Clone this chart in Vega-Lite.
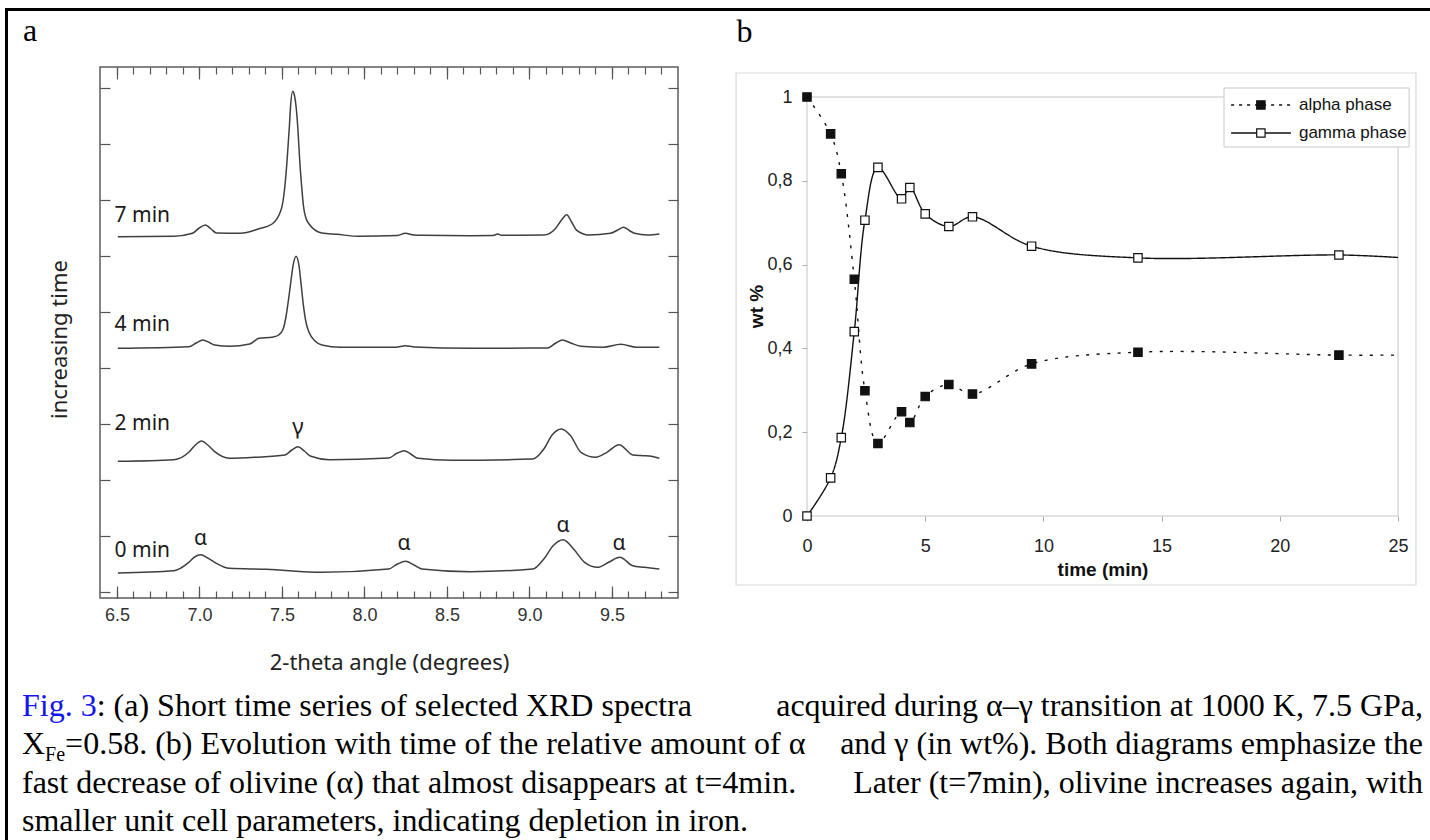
{
  "$schema": "https://vega.github.io/schema/vega-lite/v6.json",
  "padding": {"left": 5, "top": 8, "right": 0, "bottom": 0},
  "background": "white",
  "config": {
    "view": {"stroke": null},
    "axis": {"grid": false, "domain": false, "labelFlush": false, "labelOverlap": false}
  },
  "datasets": {
    "xrd": [
      {"scan": "7 min", "theta": 6.505, "counts": 361.3}, {"scan": "7 min", "theta": 6.845, "counts": 361.7}, {"scan": "7 min", "theta": 6.957, "counts": 364.7}, {"scan": "7 min", "theta": 6.995, "counts": 369.5}, {"scan": "7 min", "theta": 7.036, "counts": 373}, {"scan": "7 min", "theta": 7.07, "counts": 369}, {"scan": "7 min", "theta": 7.103, "counts": 365}, {"scan": "7 min", "theta": 7.249, "counts": 364.7}, {"scan": "7 min", "theta": 7.361, "counts": 369.3}, {"scan": "7 min", "theta": 7.44, "counts": 374}, {"scan": "7 min", "theta": 7.496, "counts": 389}, {"scan": "7 min", "theta": 7.515, "counts": 408}, {"scan": "7 min", "theta": 7.53, "counts": 435.7}, {"scan": "7 min", "theta": 7.545, "counts": 472}, {"scan": "7 min", "theta": 7.552, "counts": 492}, {"scan": "7 min", "theta": 7.565, "counts": 506.7}, {"scan": "7 min", "theta": 7.575, "counts": 503}, {"scan": "7 min", "theta": 7.585, "counts": 492}, {"scan": "7 min", "theta": 7.596, "counts": 470}, {"scan": "7 min", "theta": 7.608, "counts": 435.7}, {"scan": "7 min", "theta": 7.62, "counts": 410}, {"scan": "7 min", "theta": 7.63, "counts": 392}, {"scan": "7 min", "theta": 7.645, "counts": 380}, {"scan": "7 min", "theta": 7.664, "counts": 374}, {"scan": "7 min", "theta": 7.742, "counts": 365}, {"scan": "7 min", "theta": 7.832, "counts": 363.7}, {"scan": "7 min", "theta": 7.967, "counts": 361.7}, {"scan": "7 min", "theta": 8.2, "counts": 362.5}, {"scan": "7 min", "theta": 8.247, "counts": 364.7}, {"scan": "7 min", "theta": 8.3, "counts": 363}, {"scan": "7 min", "theta": 8.348, "counts": 362.7}, {"scan": "7 min", "theta": 8.64, "counts": 362.3}, {"scan": "7 min", "theta": 8.78, "counts": 362.5}, {"scan": "7 min", "theta": 8.807, "counts": 364}, {"scan": "7 min", "theta": 8.83, "counts": 362.7}, {"scan": "7 min", "theta": 9.087, "counts": 363}, {"scan": "7 min", "theta": 9.155, "counts": 369}, {"scan": "7 min", "theta": 9.19, "counts": 377}, {"scan": "7 min", "theta": 9.226, "counts": 383.3}, {"scan": "7 min", "theta": 9.255, "counts": 376}, {"scan": "7 min", "theta": 9.289, "counts": 367.3}, {"scan": "7 min", "theta": 9.357, "counts": 363}, {"scan": "7 min", "theta": 9.491, "counts": 364.7}, {"scan": "7 min", "theta": 9.535, "counts": 368}, {"scan": "7 min", "theta": 9.57, "counts": 370.7}, {"scan": "7 min", "theta": 9.605, "counts": 367.5}, {"scan": "7 min", "theta": 9.637, "counts": 364.7}, {"scan": "7 min", "theta": 9.715, "counts": 363}, {"scan": "7 min", "theta": 9.787, "counts": 364},
      {"scan": "4 min", "theta": 6.505, "counts": 249.7}, {"scan": "4 min", "theta": 6.935, "counts": 251.3}, {"scan": "4 min", "theta": 6.98, "counts": 255}, {"scan": "4 min", "theta": 7.02, "counts": 258}, {"scan": "4 min", "theta": 7.06, "counts": 255.5}, {"scan": "4 min", "theta": 7.092, "counts": 253}, {"scan": "4 min", "theta": 7.182, "counts": 251.7}, {"scan": "4 min", "theta": 7.305, "counts": 254}, {"scan": "4 min", "theta": 7.361, "counts": 259.7}, {"scan": "4 min", "theta": 7.44, "counts": 260.7}, {"scan": "4 min", "theta": 7.48, "counts": 263}, {"scan": "4 min", "theta": 7.507, "counts": 269}, {"scan": "4 min", "theta": 7.525, "counts": 282}, {"scan": "4 min", "theta": 7.54, "counts": 299}, {"scan": "4 min", "theta": 7.555, "counts": 318}, {"scan": "4 min", "theta": 7.567, "counts": 332.3}, {"scan": "4 min", "theta": 7.585, "counts": 341.7}, {"scan": "4 min", "theta": 7.603, "counts": 332.3}, {"scan": "4 min", "theta": 7.615, "counts": 315}, {"scan": "4 min", "theta": 7.63, "counts": 292.3}, {"scan": "4 min", "theta": 7.645, "counts": 276}, {"scan": "4 min", "theta": 7.664, "counts": 265.7}, {"scan": "4 min", "theta": 7.7, "counts": 257}, {"scan": "4 min", "theta": 7.742, "counts": 253}, {"scan": "4 min", "theta": 7.854, "counts": 250.7}, {"scan": "4 min", "theta": 8.19, "counts": 250.7}, {"scan": "4 min", "theta": 8.247, "counts": 252.3}, {"scan": "4 min", "theta": 8.303, "counts": 251}, {"scan": "4 min", "theta": 8.64, "counts": 249.7}, {"scan": "4 min", "theta": 9.11, "counts": 250}, {"scan": "4 min", "theta": 9.16, "counts": 255}, {"scan": "4 min", "theta": 9.2, "counts": 258}, {"scan": "4 min", "theta": 9.25, "counts": 255}, {"scan": "4 min", "theta": 9.312, "counts": 251.7}, {"scan": "4 min", "theta": 9.446, "counts": 250.7}, {"scan": "4 min", "theta": 9.554, "counts": 253.7}, {"scan": "4 min", "theta": 9.648, "counts": 250.7}, {"scan": "4 min", "theta": 9.787, "counts": 250.7},
      {"scan": "2 min", "theta": 6.505, "counts": 136.7}, {"scan": "2 min", "theta": 6.845, "counts": 138.3}, {"scan": "2 min", "theta": 6.935, "counts": 145.7}, {"scan": "2 min", "theta": 6.975, "counts": 153}, {"scan": "2 min", "theta": 7.014, "counts": 157}, {"scan": "2 min", "theta": 7.05, "counts": 153}, {"scan": "2 min", "theta": 7.092, "counts": 146.3}, {"scan": "2 min", "theta": 7.182, "counts": 139.7}, {"scan": "2 min", "theta": 7.339, "counts": 140.7}, {"scan": "2 min", "theta": 7.518, "counts": 143}, {"scan": "2 min", "theta": 7.56, "counts": 148}, {"scan": "2 min", "theta": 7.597, "counts": 151.3}, {"scan": "2 min", "theta": 7.635, "counts": 147}, {"scan": "2 min", "theta": 7.675, "counts": 141.7}, {"scan": "2 min", "theta": 7.787, "counts": 138.3}, {"scan": "2 min", "theta": 8.146, "counts": 140}, {"scan": "2 min", "theta": 8.2, "counts": 145}, {"scan": "2 min", "theta": 8.24, "counts": 147.3}, {"scan": "2 min", "theta": 8.28, "counts": 144}, {"scan": "2 min", "theta": 8.325, "counts": 139.7}, {"scan": "2 min", "theta": 8.527, "counts": 137.7}, {"scan": "2 min", "theta": 9.02, "counts": 139}, {"scan": "2 min", "theta": 9.087, "counts": 149}, {"scan": "2 min", "theta": 9.137, "counts": 163}, {"scan": "2 min", "theta": 9.193, "counts": 169}, {"scan": "2 min", "theta": 9.249, "counts": 162.3}, {"scan": "2 min", "theta": 9.312, "counts": 145.7}, {"scan": "2 min", "theta": 9.401, "counts": 140.7}, {"scan": "2 min", "theta": 9.469, "counts": 145.7}, {"scan": "2 min", "theta": 9.543, "counts": 153.3}, {"scan": "2 min", "theta": 9.626, "counts": 143}, {"scan": "2 min", "theta": 9.693, "counts": 142.3}, {"scan": "2 min", "theta": 9.738, "counts": 141.7}, {"scan": "2 min", "theta": 9.787, "counts": 139.7},
      {"scan": "0 min", "theta": 6.505, "counts": 25}, {"scan": "0 min", "theta": 6.845, "counts": 27.3}, {"scan": "0 min", "theta": 6.935, "counts": 35.7}, {"scan": "0 min", "theta": 6.97, "counts": 41}, {"scan": "0 min", "theta": 7.007, "counts": 43.3}, {"scan": "0 min", "theta": 7.05, "counts": 40}, {"scan": "0 min", "theta": 7.092, "counts": 35.7}, {"scan": "0 min", "theta": 7.182, "counts": 29.7}, {"scan": "0 min", "theta": 7.406, "counts": 28.7}, {"scan": "0 min", "theta": 7.742, "counts": 25.7}, {"scan": "0 min", "theta": 8.146, "counts": 29}, {"scan": "0 min", "theta": 8.2, "counts": 34}, {"scan": "0 min", "theta": 8.249, "counts": 36.7}, {"scan": "0 min", "theta": 8.3, "counts": 33}, {"scan": "0 min", "theta": 8.348, "counts": 29}, {"scan": "0 min", "theta": 8.64, "counts": 26.3}, {"scan": "0 min", "theta": 9.02, "counts": 29}, {"scan": "0 min", "theta": 9.087, "counts": 39}, {"scan": "0 min", "theta": 9.143, "counts": 52.3}, {"scan": "0 min", "theta": 9.204, "counts": 58.3}, {"scan": "0 min", "theta": 9.267, "counts": 49}, {"scan": "0 min", "theta": 9.334, "counts": 35.7}, {"scan": "0 min", "theta": 9.413, "counts": 30.7}, {"scan": "0 min", "theta": 9.48, "counts": 35.7}, {"scan": "0 min", "theta": 9.547, "counts": 40.7}, {"scan": "0 min", "theta": 9.626, "counts": 32.3}, {"scan": "0 min", "theta": 9.693, "counts": 30.7}, {"scan": "0 min", "theta": 9.787, "counts": 29}
    ],
    "scanLabels": [
      {"theta": 6.485, "counts": 382, "label": "7 min"},
      {"theta": 6.485, "counts": 273, "label": "4 min"},
      {"theta": 6.485, "counts": 174, "label": "2 min"},
      {"theta": 6.485, "counts": 47, "label": "0 min"}
    ],
    "peakLabels": [
      {"theta": 7.007, "counts": 59, "label": "α"},
      {"theta": 8.24, "counts": 54, "label": "α"},
      {"theta": 9.204, "counts": 72, "label": "α"},
      {"theta": 9.543, "counts": 54, "label": "α"},
      {"theta": 7.597, "counts": 171, "label": "γ"}
    ],
    "phases": [
      {"phase": "alpha phase", "t": 0, "wt": 1.0}, {"phase": "alpha phase", "t": 1, "wt": 0.912}, {"phase": "alpha phase", "t": 1.45, "wt": 0.817}, {"phase": "alpha phase", "t": 2, "wt": 0.565}, {"phase": "alpha phase", "t": 2.45, "wt": 0.299}, {"phase": "alpha phase", "t": 3, "wt": 0.173}, {"phase": "alpha phase", "t": 4, "wt": 0.249}, {"phase": "alpha phase", "t": 4.35, "wt": 0.223}, {"phase": "alpha phase", "t": 5, "wt": 0.285}, {"phase": "alpha phase", "t": 6, "wt": 0.314}, {"phase": "alpha phase", "t": 7, "wt": 0.291}, {"phase": "alpha phase", "t": 9.5, "wt": 0.363}, {"phase": "alpha phase", "t": 14, "wt": 0.391}, {"phase": "alpha phase", "t": 22.5, "wt": 0.384}, {"phase": "alpha phase", "t": 25, "wt": 0.384},
      {"phase": "gamma phase", "t": 0, "wt": 0.0}, {"phase": "gamma phase", "t": 1, "wt": 0.091}, {"phase": "gamma phase", "t": 1.45, "wt": 0.187}, {"phase": "gamma phase", "t": 2, "wt": 0.44}, {"phase": "gamma phase", "t": 2.45, "wt": 0.706}, {"phase": "gamma phase", "t": 3, "wt": 0.832}, {"phase": "gamma phase", "t": 4, "wt": 0.757}, {"phase": "gamma phase", "t": 4.35, "wt": 0.784}, {"phase": "gamma phase", "t": 5, "wt": 0.721}, {"phase": "gamma phase", "t": 6, "wt": 0.691}, {"phase": "gamma phase", "t": 7, "wt": 0.714}, {"phase": "gamma phase", "t": 9.5, "wt": 0.644}, {"phase": "gamma phase", "t": 14, "wt": 0.616}, {"phase": "gamma phase", "t": 22.5, "wt": 0.623}, {"phase": "gamma phase", "t": 25, "wt": 0.617}
    ],
    "one": [{}],
    "caption": [
      {"line": 1, "seg": "FIG", "text": "Fig. 3"},
      {"line": 1, "seg": "L2", "text": ": (a) Short time series of selected XRD spectra"},
      {"line": 1, "seg": "R", "text": "acquired during α–γ transition at 1000 K, 7.5 GPa,"},
      {"line": 2, "seg": "L", "text": "X"},
      {"line": 2, "seg": "SUB", "text": "Fe"},
      {"line": 2, "seg": "L3", "text": "=0.58. (b) Evolution with time of the relative amount of α"},
      {"line": 2, "seg": "R", "text": "and γ (in wt%). Both diagrams emphasize the"},
      {"line": 3, "seg": "L", "text": "fast decrease of olivine (α) that almost disappears at t=4min."},
      {"line": 3, "seg": "R", "text": "Later (t=7min), olivine increases again, with"},
      {"line": 4, "seg": "L", "text": "smaller unit cell parameters, indicating depletion in iron."}
    ]
  },
  "spacing": 0,
  "hconcat": [
    {"data": {"values": []}, "mark": "rect", "encoding": {}, "width": 3, "height": 832, "view": {"fill": "black", "stroke": null}},
    {
      "spacing": 3,
      "vconcat": [
        {"data": {"values": []}, "mark": "rect", "encoding": {}, "width": 1422, "height": 3, "view": {"fill": "black", "stroke": null}},
        {
          "spacing": 16,
          "vconcat": [
            {
              "spacing": 13,
              "hconcat": [
                {"data": {"values": []}, "mark": "rect", "encoding": {}, "width": 1, "height": 1},
                {
                  "spacing": 55,
                  "hconcat": [
                    {
                      "width": 578,
                      "height": 531,
                      "title": {"text": "a", "anchor": "start", "frame": "bounds", "orient": "top", "font": "Liberation Serif", "fontSize": 32, "fontWeight": "normal", "color": "black", "baseline": "alphabetic", "offset": -7, "dx": -25},
                      "view": {"stroke": "#5c5c5c", "strokeWidth": 1.5},
                      "resolve": {"axis": {"x": "independent", "y": "independent"}},
                      "layer": [
                        {
                          "data": {"name": "xrd"},
                          "mark": {"type": "line", "interpolate": "monotone", "stroke": "#3f3f3f", "strokeWidth": 1.5},
                          "encoding": {
                            "x": {"field": "theta", "type": "quantitative", "scale": {"domain": [6.397, 9.9], "nice": false, "zero": false},
                                  "axis": {"orient": "bottom", "values": [6.5, 7, 7.5, 8, 8.5, 9, 9.5], "format": ".1f", "tickSize": -12, "tickColor": "#555", "tickWidth": 1.2, "labelPadding": 20, "labelFont": "Liberation Sans", "labelFontSize": 18, "labelColor": "#333", "title": "2-theta angle (degrees)", "titleFont": "Noto Sans", "titleFontSize": 22, "titleFontWeight": "normal", "titleColor": "#222", "titlePadding": 28}},
                            "y": {"field": "counts", "type": "quantitative", "scale": {"domain": [0, 531], "nice": false, "zero": false},
                                  "axis": {"orient": "left", "values": [6, 62, 118, 174, 230, 286, 342, 398, 454, 510], "labels": false, "tickSize": -10, "tickColor": "#555", "tickWidth": 1.2, "title": "increasing time", "titleFont": "Noto Sans", "titleFontSize": 22, "titleFontWeight": "normal", "titleColor": "#222", "titlePadding": 29, "minExtent": 0, "maxExtent": 0, "titleY": 272}},
                            "detail": {"field": "scan", "type": "nominal"}
                          }
                        },
                        {
                          "data": {"name": "scanLabels"},
                          "mark": {"type": "text", "align": "left", "baseline": "middle", "font": "Noto Sans", "fontSize": 21, "color": "#1a1a1a"},
                          "encoding": {
                            "x": {"field": "theta", "type": "quantitative", "scale": {"domain": [6.397, 9.9], "nice": false, "zero": false},
                                  "axis": {"orient": "bottom", "values": [6.5, 6.6, 6.7, 6.8, 6.9, 7.0, 7.1, 7.2, 7.3, 7.4, 7.5, 7.6, 7.7, 7.8, 7.9, 8.0, 8.1, 8.2, 8.3, 8.4, 8.5, 8.6, 8.7, 8.8, 8.9, 9.0, 9.1, 9.2, 9.3, 9.4, 9.5, 9.6, 9.7, 9.8], "labels": false, "tickSize": -7, "tickColor": "#555", "tickWidth": 1.2, "title": null}},
                            "y": {"field": "counts", "type": "quantitative", "scale": {"domain": [0, 531], "nice": false, "zero": false},
                                  "axis": {"orient": "right", "values": [6, 62, 118, 174, 230, 286, 342, 398, 454, 510], "labels": false, "tickSize": -10, "tickColor": "#555", "tickWidth": 1.2, "title": null, "minExtent": 0, "maxExtent": 0}},
                            "text": {"field": "label", "type": "nominal"}
                          }
                        },
                        {
                          "data": {"name": "peakLabels"},
                          "transform": [{"filter": "datum.label === 'α'"}],
                          "mark": {"type": "text", "align": "center", "baseline": "middle", "font": "Noto Sans", "fontSize": 21, "color": "#1a1a1a"},
                          "encoding": {
                            "x": {"field": "theta", "type": "quantitative", "scale": {"domain": [6.397, 9.9], "nice": false, "zero": false},
                                  "axis": {"orient": "top", "values": [6.5, 7, 7.5, 8, 8.5, 9, 9.5], "labels": false, "tickSize": -12, "tickColor": "#555", "tickWidth": 1.2, "title": null, "minExtent": 0, "maxExtent": 0}},
                            "y": {"field": "counts", "type": "quantitative", "scale": {"domain": [0, 531], "nice": false, "zero": false}, "axis": null},
                            "text": {"field": "label", "type": "nominal"}
                          }
                        },
                        {
                          "data": {"name": "peakLabels"},
                          "transform": [{"filter": "datum.label === 'γ'"}],
                          "mark": {"type": "text", "align": "center", "baseline": "middle", "font": "Noto Sans", "fontSize": 22, "color": "#1a1a1a"},
                          "encoding": {
                            "x": {"field": "theta", "type": "quantitative", "scale": {"domain": [6.397, 9.9], "nice": false, "zero": false},
                                  "axis": {"orient": "top", "values": [6.5, 6.6, 6.7, 6.8, 6.9, 7.0, 7.1, 7.2, 7.3, 7.4, 7.5, 7.6, 7.7, 7.8, 7.9, 8.0, 8.1, 8.2, 8.3, 8.4, 8.5, 8.6, 8.7, 8.8, 8.9, 9.0, 9.1, 9.2, 9.3, 9.4, 9.5, 9.6, 9.7, 9.8], "labels": false, "tickSize": -7, "tickColor": "#555", "tickWidth": 1.2, "title": null, "minExtent": 0, "maxExtent": 0}},
                            "y": {"field": "counts", "type": "quantitative", "scale": {"domain": [0, 531], "nice": false, "zero": false}, "axis": null},
                            "text": {"field": "label", "type": "nominal"}
                          }
                        }
                      ]
                    },
                    {
                      "width": 591,
                      "height": 449,
                      "title": {"text": "b", "anchor": "start", "frame": "bounds", "orient": "top", "font": "Liberation Serif", "fontSize": 32, "fontWeight": "normal", "color": "black", "baseline": "alphabetic", "offset": -7, "dx": 1},
                      "data": {"name": "phases"},
                      "layer": [
                        {
                          "data": {"name": "one"},
                          "mark": {"type": "rect", "fill": null, "stroke": "#dadada", "strokeWidth": 1.2},
                          "encoding": {"x": {"datum": -3.0, "type": "quantitative"}, "x2": {"datum": 25.76}, "y": {"datum": 1.0573, "type": "quantitative"}, "y2": {"datum": -0.1647}}
                        },
                        {
                          "data": {"name": "one"},
                          "mark": {"type": "rule", "color": "#c4c4c4", "strokeWidth": 1},
                          "encoding": {"y": {"datum": 1, "type": "quantitative"}}
                        },
                        {
                          "data": {"name": "one"},
                          "mark": {"type": "rule", "color": "#c4c4c4", "strokeWidth": 1},
                          "encoding": {"y": {"datum": 0, "type": "quantitative"}}
                        },
                        {
                          "data": {"name": "one"},
                          "mark": {"type": "rule", "color": "#c4c4c4", "strokeWidth": 1},
                          "encoding": {"x": {"datum": 0, "type": "quantitative"}, "y": {"datum": 0, "type": "quantitative"}, "y2": {"datum": 1}}
                        },
                        {
                          "data": {"name": "one"},
                          "mark": {"type": "rule", "color": "#c4c4c4", "strokeWidth": 1},
                          "encoding": {"x": {"datum": 25, "type": "quantitative"}, "y": {"datum": 0, "type": "quantitative"}, "y2": {"datum": 1}}
                        },
                        {
                          "mark": {"type": "line", "interpolate": "catmull-rom", "stroke": "#111", "strokeWidth": 1.4},
                          "encoding": {
                            "x": {"field": "t", "type": "quantitative", "scale": {"domain": [0, 25], "nice": false},
                                  "axis": {"values": [0, 5, 10, 15, 20, 25], "tickSize": 5, "tickColor": "#aaa", "labelPadding": 16, "labelFont": "Liberation Sans", "labelFontSize": 18, "labelColor": "#222", "title": "time (min)", "titleFont": "Liberation Sans", "titleFontSize": 19, "titleFontWeight": "bold", "titleColor": "#111", "titlePadding": 5}},
                            "y": {"field": "wt", "type": "quantitative", "scale": {"domain": [0, 1.0716], "nice": false},
                                  "axis": {"values": [0, 0.2, 0.4, 0.6, 0.8, 1], "labelExpr": "replace(format(datum.value, '~g'), '.', ',')", "tickSize": 5, "tickColor": "#aaa", "labelPadding": 10, "labelFont": "Liberation Sans", "labelFontSize": 18, "labelColor": "#222", "title": "wt %", "titleFont": "Liberation Sans", "titleFontSize": 19, "titleFontWeight": "bold", "titleColor": "#111", "titlePadding": 0, "minExtent": 0, "titleY": 239}},
                            "strokeDash": {"field": "phase", "type": "nominal", "scale": {"domain": ["alpha phase", "gamma phase"], "range": [[3, 7.5], [1, 0]]}, "legend": null}
                          }
                        },
                        {
                          "transform": [{"filter": "datum.t < 24"}],
                          "mark": {"type": "point", "shape": "square", "size": 70, "filled": true, "stroke": "#111", "strokeWidth": 1.2, "opacity": 1},
                          "encoding": {
                            "x": {"field": "t", "type": "quantitative"},
                            "y": {"field": "wt", "type": "quantitative"},
                            "fill": {"field": "phase", "type": "nominal", "scale": {"domain": ["alpha phase", "gamma phase"], "range": ["#111", "white"]}, "legend": null}
                          }
                        },
                        {
                          "data": {"name": "one"},
                          "mark": {"type": "rect", "fill": "white", "stroke": "#c8c8c8", "strokeWidth": 1},
                          "encoding": {"x": {"datum": 17.64, "type": "quantitative"}, "x2": {"datum": 25.47}, "y": {"datum": 1.0215, "type": "quantitative"}, "y2": {"datum": 0.8807}}
                        },
                        {
                          "data": {"name": "one"},
                          "mark": {"type": "rule", "color": "#111", "strokeWidth": 1.4, "strokeDash": [3, 5]},
                          "encoding": {"x": {"datum": 17.94, "type": "quantitative"}, "x2": {"datum": 20.47}, "y": {"datum": 0.981, "type": "quantitative"}}
                        },
                        {
                          "data": {"name": "one"},
                          "mark": {"type": "rule", "color": "#111", "strokeWidth": 1.4},
                          "encoding": {"x": {"datum": 17.94, "type": "quantitative"}, "x2": {"datum": 20.47}, "y": {"datum": 0.914, "type": "quantitative"}}
                        },
                        {
                          "data": {"name": "one"},
                          "mark": {"type": "point", "shape": "square", "size": 70, "filled": true, "fill": "#111", "stroke": "#111", "strokeWidth": 1.2, "opacity": 1},
                          "encoding": {"x": {"datum": 19.2, "type": "quantitative"}, "y": {"datum": 0.981, "type": "quantitative"}}
                        },
                        {
                          "data": {"name": "one"},
                          "mark": {"type": "point", "shape": "square", "size": 70, "filled": true, "fill": "white", "stroke": "#111", "strokeWidth": 1.2, "opacity": 1},
                          "encoding": {"x": {"datum": 19.2, "type": "quantitative"}, "y": {"datum": 0.914, "type": "quantitative"}}
                        },
                        {
                          "data": {"name": "one"},
                          "mark": {"type": "text", "align": "left", "baseline": "middle", "font": "Liberation Sans", "fontSize": 17, "color": "#111"},
                          "encoding": {"x": {"datum": 20.81, "type": "quantitative"}, "y": {"datum": 0.981, "type": "quantitative"}, "text": {"value": "alpha phase"}}
                        },
                        {
                          "data": {"name": "one"},
                          "mark": {"type": "text", "align": "left", "baseline": "middle", "font": "Liberation Sans", "fontSize": 17, "color": "#111"},
                          "encoding": {"x": {"datum": 20.81, "type": "quantitative"}, "y": {"datum": 0.914, "type": "quantitative"}, "text": {"value": "gamma phase"}}
                        }
                      ]
                    }
                  ]
                }
              ]
            },
            {
              "width": 1415,
              "height": 115,
              "data": {"name": "caption"},
              "encoding": {
                "y": {"field": "line", "type": "ordinal", "scale": {"type": "point", "padding": 0}, "axis": null},
                "text": {"field": "text", "type": "nominal"}
              },
              "layer": [
                {"transform": [{"filter": "datum.seg === 'L'"}], "mark": {"type": "text", "align": "left", "baseline": "alphabetic", "font": "Liberation Serif", "fontSize": 32, "color": "black", "dx": 14},
                 "encoding": {"x": {"datum": 0, "type": "quantitative", "scale": {"domain": [0, 1]}, "axis": null}}},
                {"transform": [{"filter": "datum.seg === 'R'"}], "mark": {"type": "text", "align": "right", "baseline": "alphabetic", "font": "Liberation Serif", "fontSize": 32, "color": "black"},
                 "encoding": {"x": {"datum": 1, "type": "quantitative", "scale": {"domain": [0, 1]}, "axis": null}}},
                {"transform": [{"filter": "datum.seg === 'FIG'"}], "mark": {"type": "text", "align": "left", "baseline": "alphabetic", "font": "Liberation Serif", "fontSize": 32, "color": "#1414f0", "dx": 14},
                 "encoding": {"x": {"datum": 0, "type": "quantitative", "scale": {"domain": [0, 1]}, "axis": null}}},
                {"transform": [{"filter": "datum.seg === 'L2'"}], "mark": {"type": "text", "align": "left", "baseline": "alphabetic", "font": "Liberation Serif", "fontSize": 32, "color": "black", "dx": 88.7},
                 "encoding": {"x": {"datum": 0, "type": "quantitative", "scale": {"domain": [0, 1]}, "axis": null}}},
                {"transform": [{"filter": "datum.seg === 'SUB'"}], "mark": {"type": "text", "align": "left", "baseline": "alphabetic", "font": "Liberation Serif", "fontSize": 20, "color": "black", "dx": 37.1, "dy": 7},
                 "encoding": {"x": {"datum": 0, "type": "quantitative", "scale": {"domain": [0, 1]}, "axis": null}}},
                {"transform": [{"filter": "datum.seg === 'L3'"}], "mark": {"type": "text", "align": "left", "baseline": "alphabetic", "font": "Liberation Serif", "fontSize": 32, "color": "black", "dx": 57.1},
                 "encoding": {"x": {"datum": 0, "type": "quantitative", "scale": {"domain": [0, 1]}, "axis": null}}}
              ]
            }
          ]
        }
      ]
    }
  ]
}
